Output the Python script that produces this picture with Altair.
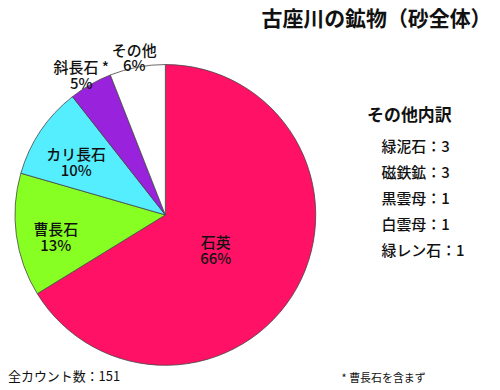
import altair as alt
import pandas as pd

# ---- data ----
minerals = ["石英", "曹長石", "カリ長石", "斜長石 *", "その他"]
counts = [100, 20, 15, 7, 9]
colors = ["#FF1166", "#88FF22", "#55EEFF", "#9922DD", "#FFFFFF"]

other_names = ["緑泥石", "磁鉄鉱", "黒雲母", "白雲母", "緑レン石"]
other_counts = [3, 3, 1, 1, 1]

title_text = "古座川の鉱物（砂全体）"
other_title = "その他内訳"
total_text = "全カウント数：151"
note_text = "* 曹長石を含まず"

FONT = "Noto Sans CJK JP"

pie_df = pd.DataFrame({"mineral": minerals, "count": counts, "idx": list(range(len(minerals)))})
other_df = pd.DataFrame({"name": other_names, "n": other_counts})

CX, CY, R = 158, 207, 151

arcs = alt.Chart(pie_df).mark_arc(outerRadius=R, stroke="#444444", strokeWidth=0.8).encode(
    theta=alt.Theta("count:Q", stack=True),
    order=alt.Order("idx:Q"),
    color=alt.Color("mineral:N", scale=alt.Scale(domain=minerals, range=colors), legend=None),
    x=alt.value(CX),
    y=alt.value(CY),
)

labels = alt.Chart(pie_df).transform_joinaggregate(
    total="sum(count)"
).transform_stack(
    stack="count", groupby=[], as_=["s0", "s1"], sort=[alt.SortField("idx", "ascending")]
).transform_calculate(
    mid="(datum.s0 + datum.s1) / 2",
    label="datum.mineral + '\\n' + format(datum.count / datum.total, '.0%')",
    lr="[58, 111, 108, 170, 168][datum.idx]",
).mark_text(
    font=FONT, fontSize=15, fontWeight=500, lineBreak="\n", lineHeight=16,
    align="center", baseline="middle", color="#111111",
).encode(
    theta=alt.Theta("mid:Q"),
    radius=alt.Radius("lr:Q", scale=None),
    text="label:N",
    x=alt.value(CX),
    y=alt.value(CY),
)

other_list = alt.Chart(other_df).transform_calculate(
    line="datum.name + '：' + datum.n"
).mark_text(
    font=FONT, fontSize=15, fontWeight=500, align="left", baseline="middle", color="#111111"
).encode(
    text="line:N",
    x=alt.value(375),
    y=alt.Y("name:N", sort=None, axis=None,
            scale=alt.Scale(type="point", range=[139, 243], padding=0)),
)

def note(txt, x, y, size, weight="normal", align="left"):
    return alt.Chart(pd.DataFrame({"t": [txt]})).mark_text(
        font=FONT, fontSize=size, fontWeight=weight, align=align,
        baseline="middle", color="#111111",
    ).encode(text="t:N", x=alt.value(x), y=alt.value(y))

title = note(title_text, 370, 11, 21, "bold", "center")
other_head = note(other_title, 403, 108, 17, "bold", "center")
total = note(total_text, 0, 370, 13)
footnote = note(note_text, 335, 372, 11)

chart = alt.layer(arcs, labels, other_list, title, other_head, total, footnote).properties(
    width=484, height=374, padding=0
).configure_view(strokeWidth=0)

chart.save("out.html", embed_options={"renderer": "svg", "actions": False})
